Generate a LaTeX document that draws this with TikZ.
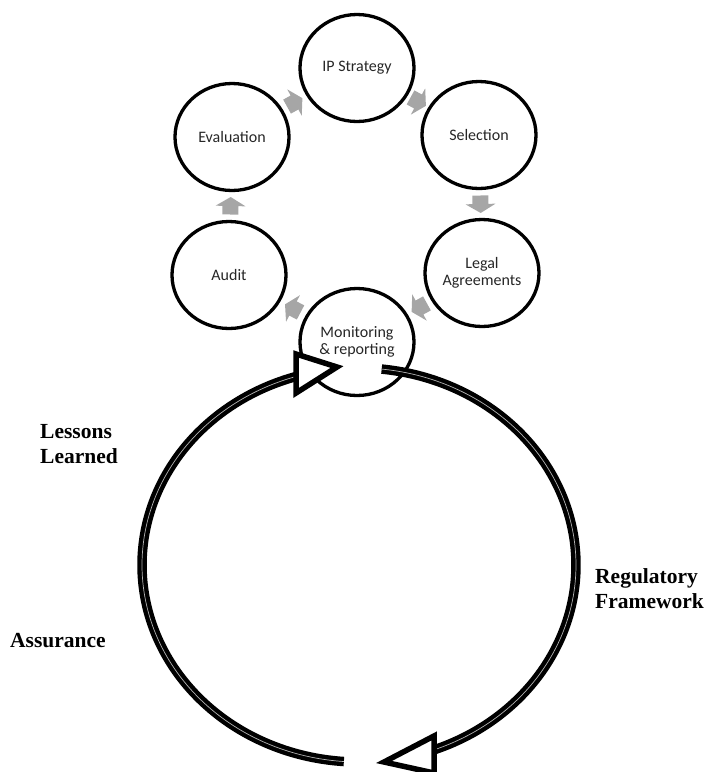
\documentclass[tikz,border=0pt]{standalone}
\usepackage{fontspec}
\setmainfont{Liberation Serif}
\newfontfamily\carlitofont{Carlito}
\usetikzlibrary{shapes.geometric,calc}
\definecolor{flowgray}{HTML}{A6A6A6}
\newcommand\flowarrow[2]{%
  \coordinate (fm) at ($(#1)!0.5!(#2)$);
  \coordinate (ft) at ($(fm)!-8.5pt!(#2)$);
  \fill[flowgray] (ft) -- ($(ft)!8pt!90:(#2)$) -- ($(fm)!8pt!90:(#2)$) -- ($(fm)!15pt!90:(#2)$)
    -- ($(fm)!9pt!(#2)$) -- ($(fm)!15pt!-90:(#2)$) -- ($(fm)!8pt!-90:(#2)$) -- ($(ft)!8pt!-90:(#2)$) -- cycle;}
\begin{document}
\begin{tikzpicture}[x=1pt,y=-1pt,
  stage/.style={ellipse, draw, line width=3.3pt, minimum width=114pt, minimum height=107pt,
    inner sep=0pt, align=center, text=black!85,
    font=\carlitofont\fontsize{16}{17}\selectfont},
  side/.style={font=\bfseries\fontsize{21.5}{25}\selectfont, anchor=base west, inner sep=0pt, align=left},
  ring/.style={line width=4.4pt, double=white!70!black, double distance=0.7pt},
  hollowtip/.style={draw, fill=white, line width=5.5pt, line join=miter}]
\useasboundingbox (0,0) rectangle (712,772);
% cycle stages
\node[stage] (ip)    at (357,68)  {IP Strategy};
\node[stage] (sel)   at (479,135) {Selection};
\node[stage] (legal) at (482,273) {Legal\\Agreements};
\node[stage] (mon)   at (357,342) {Monitoring\\\& reporting};
\node[stage] (audit) at (229,275) {Audit};
\node[stage] (eval)  at (232,137) {Evaluation};
% gray block arrows
\flowarrow{eval}{ip}
\flowarrow{ip}{sel}
\flowarrow{sel}{legal}
\flowarrow{legal}{mon}
\flowarrow{mon}{audit}
\flowarrow{audit}{eval}
% big ring
\draw[ring] plot[domain=94:255, samples=150] ({359+217*cos(\x)}, {565+197*sin(\x)});
\draw[ring] plot[domain=276:431.5, samples=150] ({359+217*cos(\x)}, {565+197*sin(\x)});
\draw[hollowtip] (296,354) -- (296,393) -- (337,367) -- cycle;
\draw[hollowtip] (434,736) -- (434,773) -- (384,762) -- cycle;
% labels
\node[side] (lessons) at (40,463) {Lessons\\Learned};
\node[side] (regul) at (595,608) {Regulatory\\Framework};
\node[side] (assur) at (10,647) {Assurance};
\end{tikzpicture}
\end{document}
